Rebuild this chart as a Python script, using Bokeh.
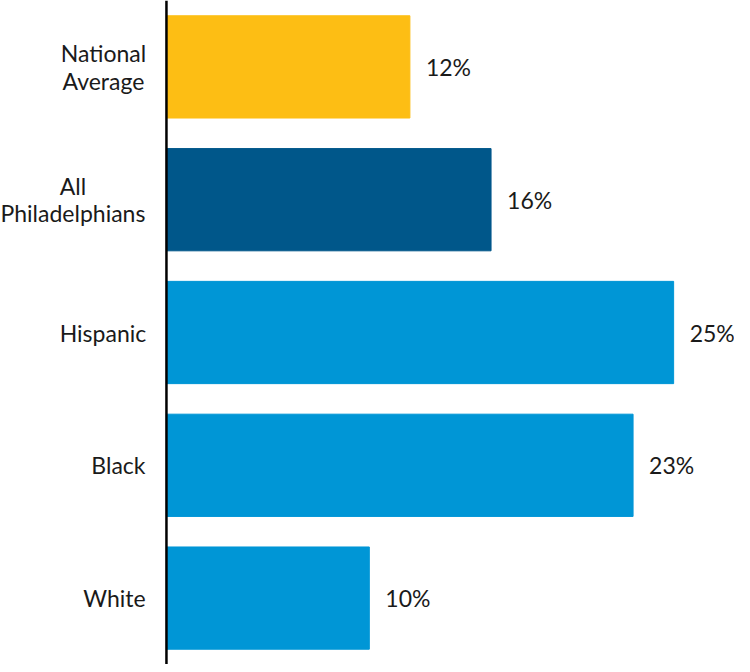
from bokeh.plotting import figure
from bokeh.models import ColumnDataSource, FactorRange, Span
from bokeh.core.properties import value
from bokeh.embed import file_html
from bokeh.resources import INLINE

categories = ["National\nAverage", "All\nPhiladelphians", "Hispanic", "Black", "White"]
values = [12, 16, 25, 23, 10]
labels = ["12%", "16%", "25%", "23%", "10%"]
colors = ["#FDBE14", "#00578A", "#0096D6", "#0096D6", "#0096D6"]

# layout helper: approximate rendered width (px) of each category label block
label_px_widths = [84, 145, 85, 54, 62]
standoff = 21
label_offsets = [-(standoff + w / 2) for w in label_px_widths]

source = ColumnDataSource(dict(cat=categories, val=values, lab=labels, col=colors,
                               zero=[0] * len(values), off=label_offsets))

# frame spans the full figure; the negative part of the x range holds the category labels
p = figure(width=734, height=664, output_backend="svg", toolbar_location=None,
           y_range=FactorRange(factors=list(reversed(categories))),
           x_range=(-8.18, 28.0), min_border_left=0, min_border_right=0,
           min_border_top=0, min_border_bottom=0)

p.hbar(y="cat", right="val", left=0, height=0.77, color="col", source=source)

p.text(x="val", y="cat", text="lab", source=source, x_offset=16,
       text_baseline="middle", text_align="left",
       text_font=value("Lato"), text_font_size="23px", text_color="#1a1a1a")
p.text(x="zero", y="cat", text="cat", source=source, x_offset="off",
       text_baseline="middle", text_align="center", text_line_height=0.98,
       text_font=value("Lato"), text_font_size="23px", text_color="#1a1a1a")

p.add_layout(Span(location=0, dimension="height", line_color="black", line_width=2.5))

p.xaxis.visible = False
p.yaxis.visible = False
p.xgrid.visible = False
p.ygrid.visible = False
p.outline_line_color = None

open("out.html", "w").write(file_html(p, INLINE))
